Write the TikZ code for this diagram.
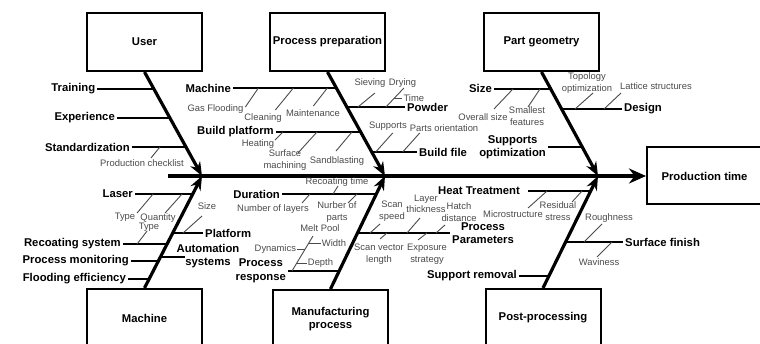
\documentclass[tikz,border=0pt]{standalone}
\usepackage{fontspec}
\setmainfont{Liberation Sans}
\usepackage{tikz}
\usetikzlibrary{arrows.meta,positioning,calc}
\definecolor{minorgray}{HTML}{4A4A4A}
\tikzstyle{Block} = [draw, rectangle, line width=2pt, minimum width=115pt, minimum height=58pt, align=center, font=\bfseries\fontsize{11.3}{13.5}\selectfont]
\tikzstyle{Cause} = [inner sep=2pt, align=center, font=\bfseries\fontsize{11.3}{13.5}\selectfont]
\tikzstyle{Detail} = [inner sep=1pt, align=center, text=minorgray, font=\fontsize{9.4}{11.5}\selectfont]
\tikzstyle{Bone} = [line width=3.2pt, -{Stealth[length=14pt,width=11pt]}]
\tikzstyle{Rib} = [line width=1.8pt]
\tikzstyle{Twig} = [line width=0.9pt, draw=minorgray]

\begin{document}
\begin{tikzpicture}[x=1pt,y=-1pt]
    \useasboundingbox (0,0) rectangle (760,344);
    \clip (0,0) rectangle (760,344);

    \node[Block] (user)    at (144.5,42) {User};
    \node[Block, minimum width=113pt] (prep) at (327.5,42) {Process preparation};
    \node[Block] (geom)    at (541.5,42) {Part geometry};
    \node[Block, minimum height=57pt] (ptime) at (704.5,176) {Production time};
    \node[Block] (machine) at (144.5,318) {Machine};
    \node[Block] (manuf)   at (330.5,319) {Manufacturing\\process};
    \node[Block] (post)    at (543,318) {Post-processing};

    \coordinate (tail) at (168,176);
    \coordinate (tipA) at (202,176);
    \coordinate (tipB) at (385,176);
    \coordinate (tipC) at (598,176);
    \draw[Bone, -{Stealth[length=17pt,width=15pt]}] (tail) -- (ptime.west);
    \draw[Bone] (user.south)    -- (tipA);
    \draw[Bone] (prep.south)    -- (tipB);
    \draw[Bone] (geom.south)    -- (tipC);
    \draw[Bone] (machine.north) -- (tipA);
    \draw[Bone] (manuf.north)   -- (tipB);
    \draw[Bone] (post.north)    -- (tipC);

    % User
    \coordinate (u1) at ($(user.south)!0.163!(tipA)$);
    \coordinate (u2) at ($(user.south)!0.442!(tipA)$);
    \coordinate (u3) at ($(user.south)!0.721!(tipA)$);
    \node[Cause, left=56.4pt of u1] (training) {Training};
    \node[Cause, left=52.9pt of u2] (experience) {Experience};
    \node[Cause, left=54pt of u3] (standard) {Standardization};
    \draw[Rib] (training) -- (u1);
    \draw[Rib] (experience) -- (u2);
    \draw[Rib] (standard) -- (u3);
    \node[Detail] (checklist) at (142,163) {Production checklist};
    \draw[Twig] ([xshift=-26pt]u3) -- ++(-9,11);

    % Process preparation
    \coordinate (p1) at ($(prep.south)!0.154!(tipB)$);
    \coordinate (p2) at ($(prep.south)!0.337!(tipB)$);
    \coordinate (p3) at ($(prep.south)!0.577!(tipB)$);
    \coordinate (p4) at ($(prep.south)!0.769!(tipB)$);
    \node[Cause, left=103.3pt of p1] (pmachine) {Machine};
    \node[Cause, right=58.1pt of p2] (powder) {Powder};
    \node[Cause, left=84.7pt of p3] (platform) {Build platform};
    \node[Cause, right=45.3pt of p4] (buildfile) {Build file};
    \draw[Rib] (pmachine) -- (p1);
    \draw[Rib] (p2) -- (powder);
    \draw[Rib] (platform) -- (p3);
    \draw[Rib] (p4) -- (buildfile);
    \node[Detail] (gasflood)  at (215.5,109) {Gas Flooding};
    \node[Detail] (cleaning)  at (263,118) {Cleaning};
    \node[Detail] (maint)     at (313,113) {Maintenance};
    \draw[Twig] ([xshift=-78pt]p1) -- ++(-13,19);
    \draw[Twig] ([xshift=-43pt]p1) -- ++(-18,22);
    \draw[Twig] ([xshift=-9pt]p1) -- ++(-14,18);
    \node[Detail] (sieving)   at (370,83) {Sieving};
    \node[Detail] (drying)    at (402.5,83) {Drying};
    \draw[Twig] ([xshift=11pt]p2) -- ++(17,-14);
    \coordinate (dr0) at ([xshift=39pt]p2);
    \coordinate (dr1) at ($(dr0)+(18,-19)$);
    \draw[Twig] (dr0) -- (dr1);
    \coordinate (tm) at ($(dr0)!0.47!(dr1)$);
    \node[Detail, right=8pt of tm] (time) {Time};
    \draw[Twig] (tm) -- (time);
    \node[Detail] (heating)   at (258,144) {Heating};
    \node[Detail] (surfmach)  at (285,160) {Surface\\machining};
    \node[Detail] (sandblast) at (337,161) {Sandblasting};
    \draw[Twig] ([xshift=-77.7pt]p3) -- ++(-8,8);
    \draw[Twig] ([xshift=-43.7pt]p3) -- ++(-19,21);
    \draw[Twig] ([xshift=-8.7pt]p3) -- ++(-16,19);
    \node[Detail] (supports)  at (388,126) {Supports};
    \node[Detail] (partsor)   at (444,128) {Parts orientation};
    \draw[Twig] ([xshift=4pt]p4) -- ++(17,-19);
    \draw[Twig] ([xshift=31pt]p4) -- ++(17,-19);

    % Part geometry
    \coordinate (g1) at ($(geom.south)!0.163!(tipC)$);
    \coordinate (g2) at ($(geom.south)!0.356!(tipC)$);
    \coordinate (g3) at ($(geom.south)!0.721!(tipC)$);
    \node[Cause, left=56.7pt of g1] (size) {Size};
    \node[Cause, right=60.4pt of g2] (design) {Design};
    \node[Cause, left=34.2pt of g3] (suppopt) {Supports\\optimization};
    \draw[Rib] (size) -- (g1);
    \draw[Rib] (g2) -- (design);
    \draw[Rib] (suppopt) -- (g3);
    \node[Detail] (overall)   at (483,117) {Overall size};
    \node[Detail] (smallest)  at (527,116) {Smallest\\features};
    \draw[Twig] ([xshift=-37.7pt]g1) -- ++(-19,20);
    \draw[Twig] ([xshift=-10.7pt]g1) -- ++(-12,18);
    \node[Detail] (topology)  at (587,83) {Topology\\optimization};
    \node[Detail] (lattice)   at (656,86) {Lattice structures};
    \draw[Twig] ([xshift=13.4pt]g2) -- ++(18,-16);
    \draw[Twig] ([xshift=42.4pt]g2) -- ++(17,-16);

    % Machine
    \coordinate (m1) at ($(tipA)!0.161!(machine.north)$);
    \coordinate (m2) at ($(tipA)!0.607!(machine.north)$);
    \coordinate (m3) at ($(tipA)!0.759!(machine.north)$);
    \coordinate (m4) at ($(tipA)!0.920!(machine.north)$);
    \coordinate (m5) at ($(tipA)!0.509!(machine.north)$);
    \coordinate (m6) at ($(tipA)!0.723!(machine.north)$);
    \node[Cause, left=57.7pt of m1] (laser) {Laser};
    \node[Cause, left=44.1pt of m2] (recoatsys) {Recoating system};
    \node[Cause, left=27.4pt of m3] (monitor) {Process monitoring};
    \node[Cause, left=21.1pt of m4] (flooding) {Flooding efficiency};
    \node[Cause, right=30.3pt of m5] (mplatform) {Platform};
    \node[Cause] (autsys) at (208,256) {Automation\\systems};
    \coordinate (m6e) at ([xshift=24.6pt]m6);
    \draw[Rib] (laser) -- (m1);
    \draw[Rib] (recoatsys) -- (m2);
    \draw[Rib] (monitor) -- (m3);
    \draw[Rib] (flooding) -- (m4);
    \draw[Rib] (m5) -- (mplatform);
    \draw[Rib] (m6) -- (m6e);
    \node[Detail] (type1)     at (125,217) {Type};
    \node[Detail] (quantity)  at (158,218) {Quantity};
    \node[Detail] (type2)     at (149,227.5) {Type};
    \draw[Twig] ([xshift=-39.7pt]m1) -- ++(-16,19);
    \draw[Twig] ([xshift=-10.7pt]m1) -- ++(-17,19);
    \draw[Twig] ([xshift=-30pt]m2) -- ++(10,-13);
    \node[Detail] (size1)     at (207,206) {Size};
    \draw[Twig] ([xshift=10.3pt]m5) -- ++(19,-17);

    % Manufacturing process
    \coordinate (f1) at ($(tipB)!0.159!(manuf.north)$);
    \coordinate (f2) at ($(tipB)!0.841!(manuf.north)$);
    \coordinate (f3) at ($(tipB)!0.504!(manuf.north)$);
    \node[Cause, left=94.3pt of f1] (duration) {Duration};
    \node[Cause, left=51pt of f2] (presp) {Process\\response};
    \node[Cause, right=92.5pt of f3] (pparam) {Process\\Parameters};
    \draw[Rib] (duration) -- (f1);
    \draw[Rib] (presp) -- (f2);
    \draw[Rib] (f3) -- (pparam);
    \node[Detail] (recoat)    at (337,182) {Recoating time};
    \node[Detail] (nlayers)   at (273,209) {Number of layers};
    \node[Detail] (nparts)    at (337,212) {Nurber of\\parts};
    \draw[Twig] ([xshift=-43.3pt]f1) -- ++(5,-8);
    \draw[Twig] ([xshift=-66.3pt]f1) -- ++(-8,9);
    \draw[Twig] ([xshift=-19.3pt]f1) -- ++(-9,9);
    \coordinate (mp0) at ([xshift=-47.2pt]f2);
    \coordinate (mp1) at ($(mp0)+(21,-35)$);
    \node[Detail] (meltpool)  at (320,228) {Melt Pool};
    \draw[Twig] (mp0) -- (mp1);
    \coordinate (dp) at ($(mp0)!0.629!(mp1)$);
    \coordinate (wp) at ($(mp0)!0.8!(mp1)$);
    \coordinate (hp) at ($(mp0)!0.229!(mp1)$);
    \node[Detail, left=8pt of dp]   (dynamics) {Dynamics};
    \node[Detail, right=12pt of wp] (width) {Width};
    \node[Detail, right=10pt of hp] (depth) {Depth};
    \draw[Twig] (dp) -- (dynamics);
    \draw[Twig] (wp) -- (width);
    \draw[Twig] (hp) -- (depth);
    \node[Detail] (scanspeed) at (392,211) {Scan\\speed};
    \node[Detail] (layerth)   at (426,204) {Layer\\thickness};
    \node[Detail] (hatch)     at (459,212) {Hatch\\distance};
    \node[Detail] (scanvec)   at (379,254) {Scan vector\\length};
    \node[Detail] (exposure)  at (427,254) {Exposure\\strategy};
    \draw[Twig] ([xshift=12.5pt]f3) -- ++(10,-9);
    \draw[Twig] ([xshift=49.5pt]f3) -- ++(13,-15);
    \draw[Twig] ([xshift=78.5pt]f3) -- ++(9,-8);
    \draw[Twig] ([xshift=29.5pt]f3) -- ++(-7,6);
    \draw[Twig] ([xshift=69.5pt]f3) -- ++(-9,7);

    % Post-processing
    \coordinate (h1) at ($(tipC)!0.134!(post.north)$);
    \coordinate (h2) at ($(tipC)!0.589!(post.north)$);
    \coordinate (h3) at ($(tipC)!0.893!(post.north)$);
    \node[Cause, left=68.6pt of h1] (heat) {Heat Treatment};
    \node[Cause, right=57.4pt of h2] (surface) {Surface finish};
    \node[Cause, left=29.9pt of h3] (removal) {Support removal};
    \draw[Rib] ([xshift=6pt]heat.east) -- (h1);
    \draw[Rib] (h2) -- (surface);
    \draw[Rib] (removal) -- (h3);
    \node[Detail] (micro)     at (513,214) {Microstructure};
    \node[Detail] (residual)  at (558,211) {Residual\\stress};
    \draw[Twig] ([xshift=-43.6pt]h1) -- ++(-19,17);
    \draw[Twig] ([xshift=-8.6pt]h1) -- ++(-10,11);
    \node[Detail] (rough)     at (609,218) {Roughness};
    \node[Detail] (waviness)  at (599,262) {Waviness};
    \draw[Twig] ([xshift=18.4pt]h2) -- ++(18,-18);
    \draw[Twig] ([xshift=46.4pt]h2) -- ++(-15,15);
\end{tikzpicture}
\end{document}
